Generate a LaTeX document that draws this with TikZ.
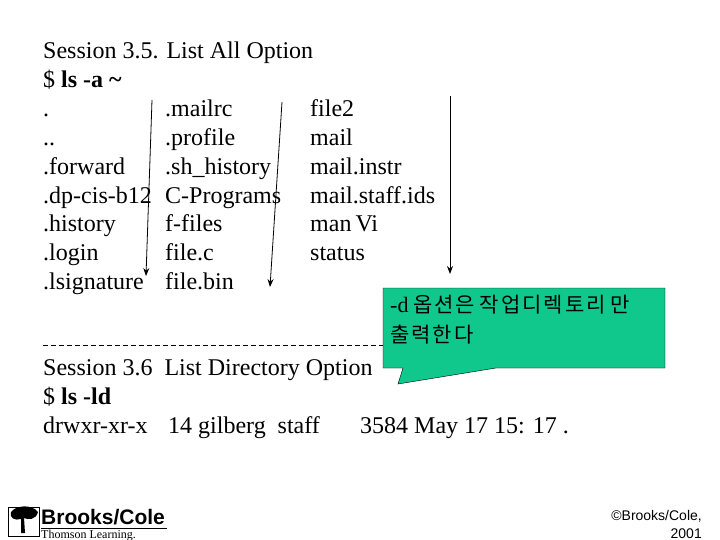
\documentclass[tikz,border=0pt]{standalone}
\usepackage{fontspec}
\usetikzlibrary{arrows.meta}
\setmainfont{Liberation Serif}
\newfontfamily\kr{Noto Sans CJK KR}
\newfontfamily\ls{Liberation Sans}
\begin{document}
\begin{tikzpicture}[x=1pt,y=-1pt,
  t/.style={anchor=base west,inner sep=0pt,font=\fontsize{24}{24}\selectfont},
  arr/.style={-{Stealth[length=8pt,width=6pt]},thick}]
\useasboundingbox (0,0) rectangle (720,540);
\fill[white] (0,0) rectangle (720,540);
\node[t] (h1) at (43,59) {Session 3.5. List All Option};
\node[t] (h2) at (43,88) {\$ \textbf{ls -a \textasciitilde}};
\foreach \i/\a/\b/\c in {0/./.mailrc/file2,1/../.profile/mail,2/.forward/.sh\_history/mail.instr,3/.dp-cis-b12/C-Programs/mail.staff.ids,4/.history/f-files/man\,Vi,5/.login/file.c/status,6/.lsignature/file.bin/{}}{
  \node[t] (a\i) at (43,117+28.7*\i) {\a};
  \node[t] (b\i) at (165,117+28.7*\i) {\b};
  \node[t] (c\i) at (310,117+28.7*\i) {\c};
}
\coordinate (s1) at (152,100); \coordinate (e1) at (146,276);
\coordinate (s2) at (282,102); \coordinate (e2) at (270,287);
\coordinate (s3) at (450,96); \coordinate (e3) at (450,274);
\draw[arr] (s1) -- (e1);
\draw[arr] (s2) -- (e2);
\draw[arr] (s3) -- (e3);
\coordinate (d1) at (43,345); \coordinate (d2) at (383,345);
\draw[thick,dash pattern=on 5pt off 3pt] (d1) -- (d2);
\definecolor{callg}{RGB}{16,200,140}
\draw[fill=callg] (383,288) -- (665,288) -- (665,368) -- (496,368) -- (398,384) -- (403,368) -- (383,368) -- cycle;
\node[anchor=north west,inner sep=0pt,align=left,font=\kr\fontsize{21}{30}\selectfont] (co) at (390,295) {{\fontsize{22}{22}\selectfont\rmfamily -d} 옵\kern2pt션\kern2pt은 작\kern2pt업\kern2pt디\kern2pt렉\kern2pt토\kern2pt리 만\\출\kern2pt력\kern2pt한\kern2pt다};
\node[t] (s6) at (43,375) {Session 3.6\ \ List Directory Option};
\node[t] (s7) at (43,404) {\$ \textbf{ls -ld}};
\node[t] (s8) at (43,433) {drwxr-xr-x};
\node[t] (s9) at (168,433) {14 gilberg\ \ staff};
\node[t] (s10) at (360,433) {3584 May 17 15: 17 .};
% logo
\draw (8,507) rectangle (39,536);
\fill (11,512) .. controls (16,505) and (32,504) .. (38,512) .. controls (36,520) and (28,520) .. (24,518) -- (25,533) -- (21,533) -- (21,519) .. controls (15,521) and (9,518) .. (11,512) -- cycle;
\node[anchor=base west,inner sep=0pt,font=\ls\bfseries\fontsize{21}{21}\selectfont] (bc) at (41,524) {Brooks/Cole};
\draw[thick] (41,528) -- (167,528);
\node[anchor=base west,inner sep=0pt,font=\rmfamily\fontsize{12}{12}\selectfont] (tl) at (41,538) {Thomson Learning.};
\node[anchor=east,inner sep=0pt,align=right,font=\ls\fontsize{14}{18}\selectfont] (cp) at (702,524) {\textcopyright Brooks/Cole,\\2001};
\end{tikzpicture}
\end{document}
